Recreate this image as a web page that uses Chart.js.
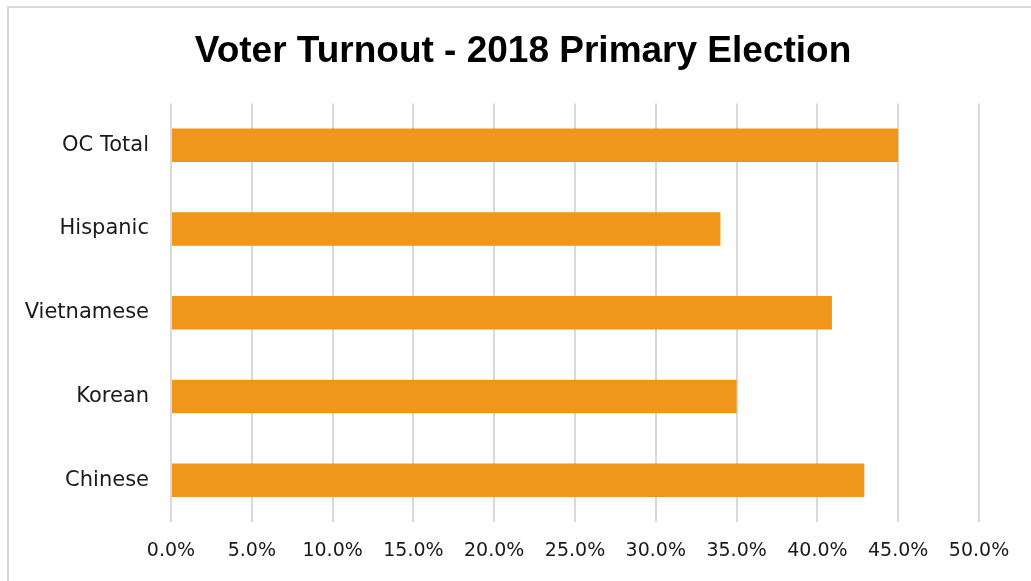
<!DOCTYPE html>
<html>
<head>
<meta charset="utf-8">
<script src="https://cdn.jsdelivr.net/npm/chart.js@4/dist/chart.umd.min.js"></script>
<style>
  html, body { margin: 0; padding: 0; background: #fff; overflow: hidden; }
  #frame { position: absolute; left: 7px; top: 6px; width: 1100px; height: 700px; border: 2px solid #d9d9d9; }
  #wrap { position: absolute; left: 0; top: 0; width: 1031px; height: 581px; }
</style>
</head>
<body>
<div id="frame"></div>
<div id="wrap"><canvas id="turnout"></canvas></div>
<script>
// ---- Turnout by group, 2018 primary ----
const groups = ['OC Total', 'Hispanic', 'Vietnamese', 'Korean', 'Chinese'];
const turnout = [0.450, 0.340, 0.409, 0.350, 0.429];
const tickLabels = ['0.0%', '5.0%', '10.0%', '15.0%', '20.0%', '25.0%', '30.0%', '35.0%', '40.0%', '45.0%', '50.0%'];

const sans = "'DejaVu Sans', sans-serif";

new Chart(document.getElementById('turnout'), {
  type: 'bar',
  data: {
    labels: groups,
    datasets: [{
      label: 'Turnout',
      data: turnout,
      backgroundColor: '#f0961a',
      borderWidth: 0,
      barPercentage: 0.4,
      categoryPercentage: 1,
      yAxisID: 'y',
    }],
  },
  options: {
    indexAxis: 'y',
    responsive: true,
    maintainAspectRatio: false,
    animation: false,
    layout: { padding: { left: 15, right: 0, top: 0, bottom: 0 } },
    scales: {
      x: {
        min: 0,
        max: 0.5,
        border: { display: false },
        grid: { color: '#d9d9d9', lineWidth: 2, drawTicks: false },
        ticks: {
          stepSize: 0.05,
          padding: 18,
          minRotation: 0,
          maxRotation: 0,
          autoSkip: false,
          color: '#1a1a1a',
          font: { family: sans, size: 19 },
          callback: (v, i) => tickLabels[i],
        },
        afterFit: scale => { scale.height = 59; },
      },
      y: {
        border: { display: false },
        grid: { display: false, drawTicks: false },
        ticks: { padding: 22, color: '#1a1a1a', font: { family: sans, size: 21 } },
        afterFit: scale => { scale.width = 156; },
      },
      // empty right-hand gutter so the last tick label has room
      gutter: {
        type: 'category',
        position: 'right',
        labels: groups,
        border: { display: false },
        grid: { display: false, drawTicks: false },
        ticks: { display: false },
        afterFit: scale => { scale.width = 52; },
      },
    },
    plugins: {
      legend: { display: false },
      tooltip: { enabled: false },
      title: {
        display: true,
        text: 'Voter Turnout - 2018 Primary Election',
        color: '#000',
        font: { family: "'Liberation Sans', Arial, sans-serif", size: 37, weight: 'bold', lineHeight: 1.2 },
        padding: { top: 30, bottom: 29 },
      },
    },
  },
});
</script>
</body>
</html>
